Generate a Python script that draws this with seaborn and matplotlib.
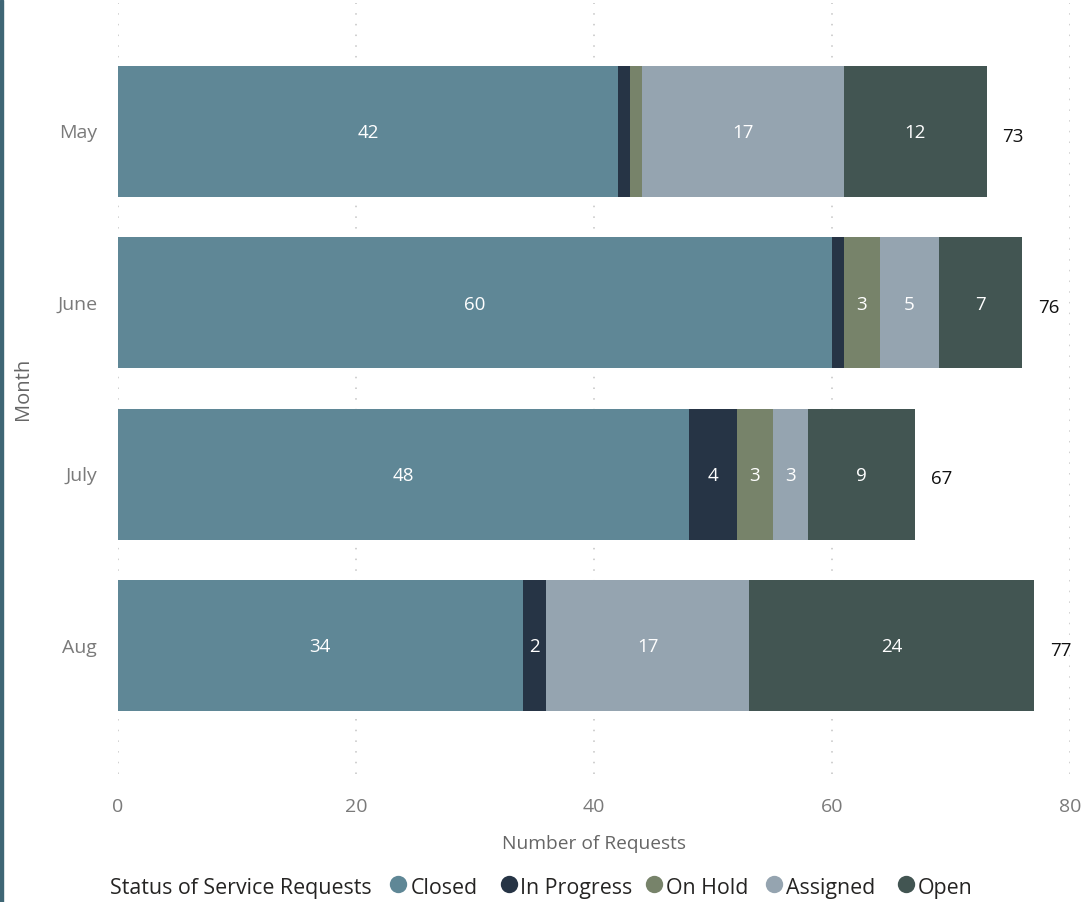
import matplotlib
matplotlib.use("Agg")
import matplotlib.pyplot as plt
from matplotlib.patches import Rectangle
from matplotlib.lines import Line2D
import seaborn as sns
import pandas as pd
import numpy as np

months = ["May", "June", "July", "Aug"]
statuses = ["Closed", "In Progress", "On Hold", "Assigned", "Open"]
closed = [42, 60, 48, 34]
in_progress = [1, 1, 4, 2]
on_hold = [1, 3, 3, 0]
assigned = [17, 5, 3, 17]
open_ = [12, 7, 9, 24]
colors = ["#5F8796", "#263445", "#77836A", "#95A4B0", "#425552"]

sns.set_theme(style="white")
plt.rcParams["font.family"] = ["Open Sans", "DejaVu Sans"]

series = [closed, in_progress, on_hold, assigned, open_]
cum = np.cumsum(np.array(series), axis=0)
totals = cum[-1]

W, H = 1082, 902
fig = plt.figure(figsize=(W / 100, H / 100), dpi=100)
ax = fig.add_axes([0.1091, 0.1419, 0.8798, 0.8548])

# Stacked bars: overlapping cumulative bars, outermost drawn first
for i in range(len(statuses) - 1, -1, -1):
    df = pd.DataFrame({"Month": months, "Value": cum[i]})
    sns.barplot(data=df, x="Value", y="Month", orient="h", color=colors[i],
                saturation=1, width=0.765, ax=ax, zorder=2, edgecolor="none",
                linewidth=0)

# Segment value labels
for i, vals in enumerate(series):
    for j, v in enumerate(vals):
        if v >= 2:
            start = cum[i][j] - v
            ax.text(start + v / 2, j + 0.01, f"{v}", ha="center", va="center",
                    color="white", fontsize=13.5, zorder=3)

# Totals at the end of each bar
for j, t in enumerate(totals):
    ax.text(t + 1.3, j + 0.03, f"{t}", ha="left", va="center",
            color="#111111", fontsize=13.5, zorder=3)

ax.set_xlim(0, 80)
ax.set_ylim(3.75, -0.75)
ax.set_xticks([0, 20, 40, 60, 80])
ax.grid(axis="x", linestyle=(0, (1, 6)), color="#C4C4C4", linewidth=1.1, zorder=0)
ax.grid(axis="y", visible=False)
ax.set_axisbelow(True)
for s in ax.spines.values():
    s.set_visible(False)
ax.tick_params(axis="both", length=0, labelsize=14, labelcolor="#7A7A7A")
ax.tick_params(axis="y", pad=15)
ax.tick_params(axis="x", pad=17)
ax.set_xlabel("Number of Requests", fontsize=13.8, color="#666666", labelpad=14)
ax.set_ylabel("Month", fontsize=14.5, color="#666666", labelpad=17)

# Legend row along the bottom
ly = 1 - 886 / H
fig.text(110 / W, ly, "Status of Service Requests", fontsize=15.4,
         color="#252423", ha="left", va="center_baseline")
marker_x = [398, 509, 654, 774, 906]
text_x = [411, 520, 666, 786, 918]
for c, lab, mx, tx in zip(colors, statuses, marker_x, text_x):
    fig.add_artist(Line2D([mx / W], [ly + 0.002], marker="o", linestyle="none",
                          markersize=12.5, markerfacecolor=c,
                          markeredgecolor="none", transform=fig.transFigure))
    fig.text(tx / W, ly, lab, fontsize=15.4, color="#252423", ha="left",
             va="center_baseline")

# Accent strip along the left edge
fig.patches.append(Rectangle((0, 0), 3 / W, 1, transform=fig.transFigure,
                             color="#3F6675", zorder=5))

fig.savefig("out.png", dpi=100)
